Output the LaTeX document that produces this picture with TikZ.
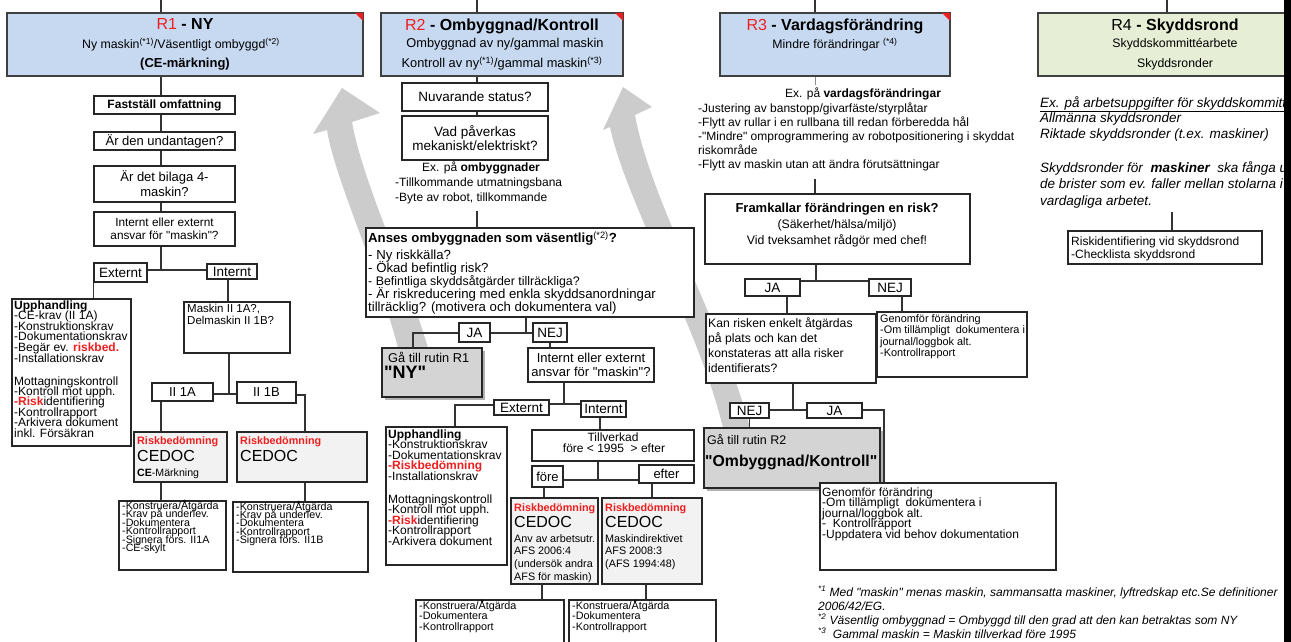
\documentclass[tikz,border=0pt]{standalone}
\usepackage{fontspec}
\setmainfont{Liberation Sans}[Ligatures=TeXOff]
\usetikzlibrary{shadows}
\definecolor{rblue}{HTML}{C6D9F1}
\definecolor{rgreen}{HTML}{E6EED5}
\definecolor{gobox}{HTML}{D4D4D4}
\definecolor{riskbg}{HTML}{F2F2F2}
\definecolor{rred}{HTML}{F01E1E}
\definecolor{arrowgray}{HTML}{CCCCCC}
\newcommand\fsz[2]{\fontsize{#1}{#2}\selectfont}
\newcommand\rr[1]{\textcolor{rred}{\textbf{#1}}}
\newcommand\bx[7]{%
  \pgfmathsetmacro\bxcx{(#2+#4)/2}%
  \pgfmathsetmacro\bxcy{(#3+#5)/2}%
  \pgfmathsetmacro\bxw{#4-#2}%
  \pgfmathsetmacro\bxh{#5-#3}%
  \node[#6, minimum width=\bxw pt, minimum height=\bxh pt] (#1) at (\bxcx,\bxcy) {#7};}
\newcommand\txl[6]{%
  \foreach \mytxt [count=\myi from 0] in {#6}{%
    \node[inner sep=0pt, anchor=base west, #5] (#1\myi) at (#2,{#3+\myi*(#4)}) {\mytxt};}}
\begin{document}
\begin{tikzpicture}[x=1pt,y=-1pt,
  bxs/.style={draw=black!85, line width=1.2pt, fill=white, inner sep=1pt, align=center, text=black},
  rbox/.style={draw=black!75, line width=1.4pt, fill=rblue},
  conn/.style={draw=black!80, line width=1.2pt},
  gobx/.style={bxs, fill=gobox, drop shadow={shadow xshift=2.5pt, shadow yshift=-2.5pt, fill=black, opacity=0.3}},
  rbx/.style={bxs, fill=riskbg},
  txw/.style={inner sep=0pt, anchor=base west},
  txc/.style={inner sep=0pt, anchor=base}]
\useasboundingbox (0,0) rectangle (1291,642);
\fill[white] (0,0) rectangle (1291,642);
\begin{scope}
\clip (0,0) rectangle (1284,642);
% big gray arrows
\fill[arrowgray] (398,348) .. controls (378,270) and (335,180) .. (327,130) -- (313,134) -- (342,88) -- (380,113) -- (352,122) .. controls (362,180) and (405,270) .. (428,348) -- cycle;
\fill[arrowgray] (723,428) .. controls (700,330) and (625,200) .. (610,127) -- (603,130) -- (623,87) -- (652,107) -- (635,115) .. controls (650,200) and (725,330) .. (750,428) -- cycle;

% ---------- header boxes
\bx{r1}{7}{13}{363}{76}{rbox}{}
\bx{r2}{381}{13}{623}{76}{rbox}{}
\bx{r3}{720}{13}{950}{76}{rbox}{}
\bx{r4}{1038}{13}{1300}{76}{rbox, fill=rgreen}{}
\fill[rred] (363,13) -- (355,13) -- (363,21) -- cycle;
\fill[rred] (623,13) -- (615,13) -- (623,21) -- cycle;
\fill[rred] (950,13) -- (942,13) -- (950,21) -- cycle;
\coordinate (top1) at (161,0);
\coordinate (top2) at (477,0);
\coordinate (top3) at (815,0);
\coordinate (top4) at (1167,0);
\draw[conn] (top1) -- (top1 |- r1.north);
\draw[conn] (top2) -- (top2 |- r2.north);
\draw[conn] (top3) -- (top3 |- r3.north);
\draw[conn] (top4) -- (top4 |- r4.north);

\node[txc] (r1t) at (185,30) {\fsz{16}{18}\textcolor{rred}{R1} \textbf{- NY}};
\node[txc] (r1s) at (181,49) {\fsz{12.3}{14}Ny maskin\textsuperscript{(*1)}/Väsentligt ombyggd\textsuperscript{(*2)}};
\node[txc] (r1u) at (185,68) {\fsz{13}{15}\textbf{(CE-märkning)}};
\node[txc] (r2t) at (502,31) {\fsz{16}{18}\textcolor{rred}{R2} \textbf{- Ombyggnad/Kontroll}};
\node[txc] (r2s) at (505,47.5) {\fsz{12.8}{14}Ombyggnad av ny/gammal maskin};
\node[txc] (r2u) at (502,67.5) {\fsz{12.8}{14}Kontroll av ny\textsuperscript{(*1)}/gammal maskin\textsuperscript{(*3)}};
\node[txc] (r3t) at (835,31) {\fsz{16}{18}\textcolor{rred}{R3} \textbf{- Vardagsförändring}};
\node[txc] (r3s) at (835,49) {\fsz{12.3}{14}Mindre förändringar \textsuperscript{(*4)}};
\node[txc] (r4t) at (1175,31) {\fsz{16}{18}R4 \textbf{- Skyddsrond}};
\node[txc] (r4s) at (1175,47.5) {\fsz{12.3}{14}Skyddskommittéarbete};
\node[txc] (r4u) at (1175,67.5) {\fsz{12.3}{14}Skyddsronder};

% ---------- R1 column
\bx{fast}{94}{96}{235}{114}{bxs, font=\fsz{12}{14}}{\textbf{Fastställ omfattning}}
\bx{undant}{94}{132}{235}{150}{bxs, font=\fsz{13}{15}}{Är den undantagen?}
\bx{bilaga}{94}{166}{235}{202}{bxs, font=\fsz{13}{15}}{Är det bilaga 4-\\maskin?}
\bx{ans1}{94}{212}{235}{246}{bxs, font=\fsz{11.8}{13}}{Internt eller externt\\ansvar för "maskin"?}
\draw[conn] (top1 |- r1.south) -- (top1 |- fast.north);
\draw[conn] (top1 |- fast.south) -- (top1 |- undant.north);
\draw[conn] (top1 |- undant.south) -- (top1 |- bilaga.north);
\draw[conn] (top1 |- bilaga.south) -- (top1 |- ans1.north);
\bx{ext1}{94}{263}{147}{282}{bxs, font=\fsz{13.5}{15}}{Externt}
\bx{int1}{207}{264}{257}{279}{bxs, font=\fsz{13.5}{15}}{Internt}
\coordinate (j1) at (161,270);
\draw[conn] (top1 |- ans1.south) -- (j1);
\draw[conn] (ext1.east |- j1) -- (int1.west |- j1);
\bx{upph1}{12}{299}{131}{446}{bxs}{}
\draw[conn] (ext1.south west) -- (ext1.south west |- upph1.north);
\txl{ua}{14}{309}{10.6}{font=\fsz{12}{12}}{\textbf{Upphandling},-CE-krav (II 1A),-Konstruktionskrav,-Dokumentationskrav,-Begär ev. \rr{riskbed.},-Installationskrav}
\txl{ub}{14}{385}{10.45}{font=\fsz{12}{12}}{Mottagningskontroll,-Kontroll mot upph.,\rr{-Risk}identifiering,-Kontrollrapport,-Arkivera dokument,inkl. Försäkran}
\bx{mask1}{184}{302}{290}{353}{bxs}{}
\coordinate (i1) at (228,0);
\draw[conn] (i1 |- int1.south) -- (i1 |- mask1.north);
\txl{ma}{187}{312}{12}{font=\fsz{11.5}{12}}{{Maskin II 1A?,},Delmaskin II 1B?}
\bx{ii1a}{152}{383}{213}{401}{bxs, font=\fsz{13}{15}}{II 1A}
\bx{ii1b}{237}{382}{296}{403}{bxs, font=\fsz{13}{15}}{II 1B}
\coordinate (j2) at (229,394);
\draw[conn] (j2 |- mask1.south) -- (j2);
\draw[conn] (ii1a.east |- j2) -- (ii1b.west |- j2);
\bx{risk1}{134}{432}{227}{482}{rbx}{}
\bx{risk2}{237}{432}{367}{482}{rbx}{}
\coordinate (k2) at (305,395);
\draw[conn] (top1 |- ii1a.south) -- (top1 |- risk1.north);
\draw[conn] (ii1b.east |- k2) -- (k2) -- (k2 |- risk2.north);
\node[txw] (rk1a) at (137,444) {\fsz{10.8}{12}\rr{Riskbedömning}};
\node[txw] (rk1b) at (137,461) {\fsz{16}{18}CEDOC};
\node[txw] (rk1c) at (137,476) {\fsz{10.6}{12}\textbf{CE}-Märkning};
\node[txw] (rk2a) at (240,444) {\fsz{10.8}{12}\rr{Riskbedömning}};
\node[txw] (rk2b) at (240,461) {\fsz{16}{18}CEDOC};
\bx{list1}{119}{501}{226}{570}{bxs}{}
\bx{list2}{233}{502}{368}{572}{bxs}{}
\draw[conn] (top1 |- risk1.south) -- (top1 |- list1.north);
\draw[conn] (k2 |- risk2.south) -- (k2 |- list2.north);
\txl{la}{122}{509.5}{8.4}{font=\fsz{10.7}{10}}{-Konstruera/Åtgärda,-Krav på underlev.,-Dokumentera,-Kontrollrapport,-Signera förs. II1A,-CE-skylt}
\txl{lb}{236}{510}{8.4}{font=\fsz{10.7}{10}}{-Konstruera/Åtgärda,-Krav på underlev.,-Dokumentera,-Kontrollrapport,-Signera förs. II1B}

% ---------- R2 column
\bx{nuv}{402}{83}{548}{111}{bxs, font=\fsz{13.5}{15}}{Nuvarande status?}
\bx{vad}{402}{116}{548}{160}{bxs, font=\fsz{13.5}{14}}{Vad påverkas\\mekaniskt/elektriskt?}
\draw[conn] (top2 |- r2.south) -- (top2 |- nuv.north);
\draw[conn] (top2 |- nuv.south) -- (top2 |- vad.north);
\node[txc] (exo) at (481,171) {\fsz{12}{13}Ex. på \textbf{ombyggnader}};
\txl{eo}{395}{186}{15}{font=\fsz{12}{13}}{-Tillkommande utmatningsbana,{-Byte av robot, tillkommande}}
\bx{anses}{366}{228}{694}{317}{bxs}{}
\coordinate (a2) at (477,211);
\draw[conn] (a2) -- (a2 |- anses.north);
\node[txw] (an0) at (368,242.5) {\fsz{13.2}{14}\textbf{Anses ombyggnaden som väsentlig}\textsuperscript{(*2)}\textbf{?}};
\txl{an}{368}{259.5}{12.9}{font=\fsz{13.2}{14}}{- Ny riskkälla?,- Ökad befintlig risk?,{\fsz{12.4}{14}- Befintliga skyddsåtgärder tillräckliga?},- Är riskreducering med enkla skyddsanordningar,tillräcklig? (motivera och dokumentera val)}
\bx{ja2}{459}{323}{490}{342}{bxs, font=\fsz{13.5}{15}}{JA}
\bx{nej2}{533}{323}{567}{342}{bxs, font=\fsz{13.5}{15}}{NEJ}
\coordinate (j3) at (526,333);
\draw[conn] (j3 |- anses.south) -- (j3);
\draw[conn] (ja2.east |- j3) -- (nej2.west |- j3);
\bx{go1}{382}{348}{482}{397}{gobx}{}
\coordinate (k4) at (413,333);
\draw[conn] (ja2.west |- k4) -- (k4) -- (k4 |- go1.north);
\node[txw] (go1a) at (388,362.5) {\fsz{12.8}{14}Gå till rutin R1};
\node[txw] (go1b) at (384,378) {\fsz{18}{20}\textbf{"NY"}};
\bx{ans2}{528}{348}{654}{382}{bxs, font=\fsz{13}{14}}{Internt eller externt\\ansvar för "maskin"?}
\draw[conn] (nej2.south) -- (nej2.south |- ans2.north);
\bx{ext2}{494}{400}{549}{415}{bxs, font=\fsz{13.5}{15}}{Externt}
\bx{int2}{581}{401}{626}{417}{bxs, font=\fsz{13.5}{15}}{Internt}
\coordinate (j4) at (564,404);
\draw[conn] (j4 |- ans2.south) -- (j4);
\draw[conn] (ext2.east |- j4) -- (int2.west |- j4);
\bx{upph2}{386}{427}{507}{565}{bxs}{}
\coordinate (k5) at (455,405);
\draw[conn] (ext2.west |- k5) -- (k5) -- (k5 |- upph2.north);
\txl{va}{388}{438}{10.55}{font=\fsz{12}{12}}{\textbf{Upphandling},-Konstruktionskrav,-Dokumentationskrav,\rr{-Riskbedömning},-Installationskrav}
\txl{vb}{388}{503}{10.5}{font=\fsz{12}{12}}{Mottagningskontroll,-Kontroll mot upph.,\rr{-Risk}identifiering,-Kontrollrapport,-Arkivera dokument}
\bx{till}{532}{430}{694}{461}{bxs}{}
\coordinate (k6) at (600,0);
\draw[conn] (k6 |- int2.south) -- (k6 |- till.north);
\node[txc] (tia) at (613,441.5) {\fsz{12}{12}Tillverkad};
\node[txc] (tib) at (614,452.5) {\fsz{12}{12}före < 1995 \ > efter};
\bx{fore}{532}{466}{563}{487}{bxs, font=\fsz{13}{14}}{före}
\bx{efter}{639}{465}{694}{483}{bxs, font=\fsz{13}{14}}{efter}
\coordinate (j5) at (598,480);
\draw[conn] (j5 |- till.south) -- (j5);
\draw[conn] (fore.east |- j5) -- (efter.west |- j5);
\bx{riskA}{511}{498}{598}{584}{rbx}{}
\bx{riskB}{602}{498}{702}{584}{rbx}{}
\coordinate (k7) at (544,0);
\coordinate (k8) at (652,0);
\draw[conn] (k7 |- fore.south) -- (k7 |- riskA.north);
\draw[conn] (k8 |- efter.south) -- (k8 |- riskB.north);
\node[txw] (rAa) at (514,511) {\fsz{10.8}{12}\rr{Riskbedömning}};
\node[txw] (rAb) at (514,527) {\fsz{16}{18}CEDOC};
\txl{rA}{514}{542}{12.8}{font=\fsz{10.8}{12}}{{Anv av arbetsutr.},{AFS 2006:4},{(undersök andra},{AFS för maskin)}}
\node[txw] (rBa) at (605,511) {\fsz{10.8}{12}\rr{Riskbedömning}};
\node[txw] (rBb) at (605,527) {\fsz{16}{18}CEDOC};
\txl{rB}{605}{542}{12.8}{font=\fsz{10.8}{12}}{{Maskindirektivet},{AFS 2008:3},{(AFS 1994:48)}}
\bx{botA}{416}{600}{564}{660}{bxs}{}
\bx{botB}{569}{600}{716}{660}{bxs}{}
\coordinate (k9) at (542,0);
\coordinate (k10) at (646,0);
\draw[conn] (k9 |- riskA.south) -- (k9 |- botA.north);
\draw[conn] (k10 |- riskB.south) -- (k10 |- botB.north);
\txl{ba}{419}{609}{10.5}{font=\fsz{10.8}{11}}{-Konstruera/Åtgärda,-Dokumentera,-Kontrollrapport}
\txl{bb}{572}{609}{10.5}{font=\fsz{10.8}{11}}{-Konstruera/Åtgärda,-Dokumentera,-Kontrollrapport}

% ---------- R3 column
\coordinate (e3) at (815,85);
\draw[conn, draw=black!45, line width=0.8pt] (top3 |- r3.south) -- (e3);
\node[txc] (exv) at (863,98) {\fsz{12}{13}Ex. på \textbf{vardagsförändringar}};
\txl{ev}{698}{112}{14.1}{font=\fsz{12}{13}}{-Justering av banstopp/givarfäste/styrplåtar,-Flytt av rullar i en rullbana till redan förberedda hål,-"Mindre" omprogrammering av robotpositionering i skyddat,riskområde,-Flytt av maskin utan att ändra förutsättningar}
\bx{fram}{705}{194}{970}{264}{bxs}{}
\coordinate (f3) at (815,179);
\draw[conn] (f3) -- (f3 |- fram.north);
\node[txc] (fra) at (837,212.5) {\fsz{13}{14}\textbf{Framkallar förändringen en risk?}};
\node[txc] (frb) at (837,228.5) {\fsz{12.3}{14}(Säkerhet/hälsa/miljö)};
\node[txc] (frc) at (837,244.5) {\fsz{12.3}{14}Vid tveksamhet rådgör med chef!};
\bx{ja3}{745}{279}{800}{296}{bxs, font=\fsz{13.5}{15}}{JA}
\bx{nej3}{869}{279}{911}{296}{bxs, font=\fsz{13.5}{15}}{NEJ}
\coordinate (j6) at (816,281);
\draw[conn] (j6 |- fram.south) -- (j6);
\draw[conn] (ja3.east |- j6) -- (nej3.west |- j6);
\bx{kan}{706}{314}{876}{383}{bxs}{}
\bx{gen1}{877}{312}{1027}{377}{bxs}{}
\coordinate (k11) at (787,0);
\coordinate (k12) at (902,0);
\draw[conn] (k11 |- ja3.south) -- (k11 |- kan.north);
\draw[conn] (k12 |- nej3.south) -- (k12 |- gen1.north);
\txl{ka}{708}{327.5}{15}{font=\fsz{12.2}{13}}{Kan risken enkelt åtgärdas,på plats och kan det,konstateras att alla risker,identifierats?}
\txl{ga}{880}{322}{11.5}{font=\fsz{10.9}{12}}{Genomför förändring,-Om tillämpligt \ dokumentera i,journal/loggbok alt.,-Kontrollrapport}
\bx{nej4}{730}{403}{769}{418}{bxs, font=\fsz{13.5}{15}}{NEJ}
\bx{ja4}{807}{403}{862}{418}{bxs, font=\fsz{13.5}{15}}{JA}
\coordinate (j7) at (793,410);
\draw[conn] (j7 |- kan.south) -- (j7);
\draw[conn] (nej4.east |- j7) -- (ja4.west |- j7);
\bx{go2}{704}{428}{880}{488}{gobx}{}
\draw[conn] (nej4.south) -- (nej4.south |- go2.north);
\node[txw] (go2a) at (707,444) {\fsz{12.5}{14}Gå till rutin R2};
\node[txw] (go2b) at (705,466) {\fsz{15.8}{18}\textbf{"Ombyggnad/Kontroll"}};
\bx{gen2}{820}{483}{1056}{570}{bxs}{}
\coordinate (k13) at (884,410);
\draw[conn] (ja4.east |- k13) -- (k13) -- (k13 |- gen2.north);
\txl{gb}{822}{496}{10.6}{font=\fsz{12}{12}}{Genomför förändring,-Om tillämpligt \ dokumentera i,journal/loggbok alt.,- \ Kontrollrapport,-Uppdatera vid behov dokumentation}
\txl{fn}{818}{596}{14}{font=\fsz{12}{13}\itshape}{{\textsuperscript{*1} Med "maskin" menas maskin, sammansatta maskiner, lyftredskap etc.Se definitioner},2006/42/EG.,\textsuperscript{*2} Väsentlig ombyggnad = Ombyggd till den grad att den kan betraktas som NY,\textsuperscript{*3} \ Gammal maskin = Maskin tillverkad före 1995}

% ---------- R4 column
\txl{ra}{1040}{107}{15.5}{font=\fsz{13.5}{15}\itshape}{\underline{Ex. på arbetsuppgifter för skyddskommitt},Allmänna skyddsronder,Riktade skyddsronder (t.ex. maskiner)}
\txl{rb}{1040}{172}{16.5}{font=\fsz{13.5}{15}\itshape}{Skyddsronder för \ \textbf{maskiner} \ ska fånga u,de brister som ev. faller mellan stolarna i,vardagliga arbetet.}
\bx{riskid}{1068}{231}{1262}{264}{bxs}{}
\coordinate (r4l) at (1172,212);
\draw[conn] (r4l) -- (r4l |- riskid.north);
\txl{ri}{1071}{245}{13}{font=\fsz{12}{13}}{Riskidentifiering vid skyddsrond,-Checklista skyddsrond}
\end{scope}
\fill[black] (1284,0) rectangle (1291,642);
\end{tikzpicture}
\end{document}
